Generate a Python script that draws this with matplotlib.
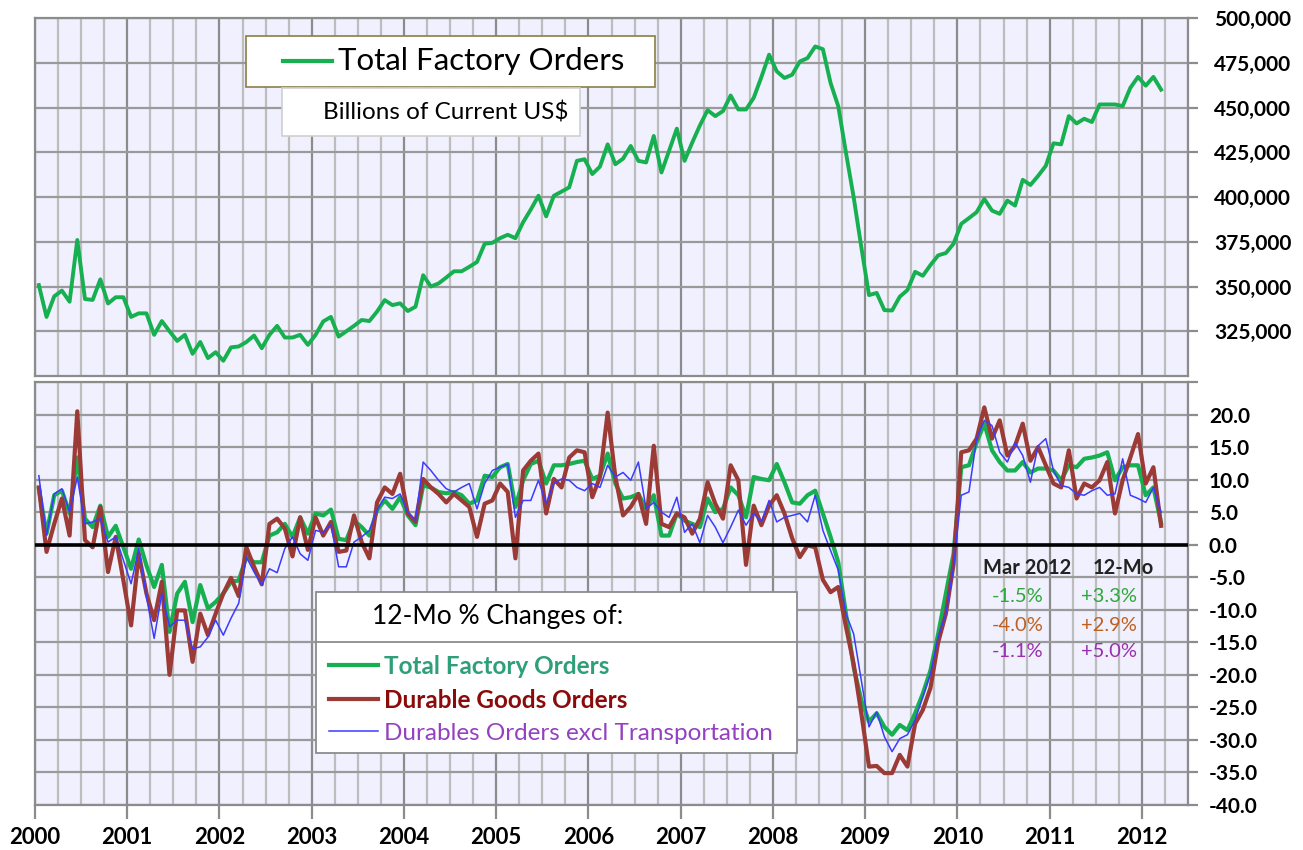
import numpy as np
import matplotlib.pyplot as plt
from matplotlib.patches import Rectangle
from matplotlib.lines import Line2D
from matplotlib.ticker import FixedLocator, FuncFormatter

plt.rcParams['font.family'] = ['Lato', 'DejaVu Sans']

# monthly data, Jan 2000 .. Mar 2012
# total factory orders, thousands -> axis shows the full number
total_orders = [
    350.8, 333.0, 344.5, 347.7, 341.5, 376.0, 343.0, 342.5, 354.0, 340.5, 344.0, 344.0,
    333.0, 335.0, 335.0, 323.0, 330.7, 325.0, 319.6, 323.0, 312.4, 319.0, 310.0, 313.3,
    308.5, 316.0, 316.5, 319.0, 322.6, 315.5, 323.0, 328.0, 321.5, 321.5, 323.0, 317.4,
    323.0, 330.5, 333.0, 322.0, 325.0, 328.0, 331.3, 330.7, 336.0, 342.4, 339.6, 340.6,
    336.3, 338.7, 356.3, 350.0, 351.7, 355.0, 358.5, 358.5, 361.0, 363.7, 373.9, 374.4,
    377.0, 378.9, 377.0, 385.9, 393.0, 400.7, 389.2, 400.7, 403.0, 405.4, 420.2, 421.1,
    412.8, 417.0, 429.4, 418.3, 421.4, 428.5, 420.2, 419.3, 434.1, 413.7, 426.0, 438.2,
    420.2, 430.4, 440.0, 448.5, 445.2, 448.0, 456.7, 448.9, 448.9, 455.4, 467.0, 479.5,
    470.2, 466.5, 468.3, 475.7, 477.6, 484.1, 482.6, 463.7, 450.7, 424.8, 400.0, 372.0,
    345.2, 346.4, 336.8, 336.6, 344.3, 348.0, 358.2, 356.0, 362.0, 367.4, 368.7, 373.9,
    385.0, 388.2, 391.5, 398.9, 392.4, 390.6, 398.0, 395.2, 409.6, 406.7, 411.8, 417.4,
    430.0, 429.4, 445.2, 441.1, 443.7, 441.9, 451.7, 451.7, 451.7, 450.8, 461.0, 467.1,
    462.2, 467.1, 460.0,
]
total_yoy = [
    8.6, 1.7, 7.6, 8.3, 4.8, 13.4, 4.0, 2.7, 6.0, 1.2, 2.9, -0.4,
    -3.7, 0.8, -3.2, -6.5, -3.1, -13.4, -7.5, -5.7, -11.9, -6.2, -9.8, -8.8,
    -7.5, -5.7, -5.5, -1.9, -2.7, -2.7, 1.4, 1.9, 3.2, 1.2, 4.2, 1.7,
    4.8, 4.5, 5.4, 0.9, 0.7, 3.7, 2.7, 1.4, 5.3, 6.8, 5.5, 7.3,
    4.5, 3.0, 9.1, 8.8, 8.1, 7.9, 8.1, 7.6, 6.3, 6.8, 10.6, 10.4,
    11.9, 12.4, 5.8, 9.9, 12.4, 12.9, 9.4, 12.2, 12.2, 12.4, 12.7, 12.9,
    10.1, 10.6, 14.0, 9.4, 7.1, 7.3, 7.8, 5.5, 7.6, 1.4, 1.4, 4.8,
    3.7, 3.2, 2.7, 7.1, 5.0, 5.5, 8.8, 7.6, 4.2, 10.4, 10.1, 9.9,
    12.4, 9.6, 6.5, 6.3, 7.6, 8.3, 4.8, 1.2, -2.7, -10.6, -18.8, -23.9,
    -27.2, -25.9, -28.0, -29.2, -27.7, -28.5, -25.9, -22.9, -19.3, -13.7, -7.5, -1.4,
    11.9, 12.2, 15.7, 18.6, 14.5, 12.7, 11.4, 11.4, 12.7, 11.1, 11.7, 11.7,
    11.4, 9.9, 12.2, 11.9, 13.2, 13.4, 13.7, 14.2, 9.9, 11.9, 12.2, 12.2,
    7.6, 8.8, 3.3,
]
durable_yoy = [
    8.8, -1.1, 3.2, 7.1, 1.4, 20.5, 0.7, -0.4, 5.8, -4.2, 1.2, -5.5,
    -12.4, -1.4, -7.5, -11.6, -5.7, -20.0, -10.1, -10.1, -18.0, -10.6, -13.9, -10.6,
    -7.5, -5.1, -7.9, -0.4, -3.4, -6.1, 3.2, 4.0, 2.5, -1.8, 4.2, -0.8,
    4.2, 1.4, 3.5, -1.1, -0.9, 4.5, 0.4, -2.1, 6.5, 8.8, 7.8, 10.9,
    4.8, 3.5, 10.1, 8.8, 7.8, 6.5, 7.8, 6.8, 5.8, 1.2, 6.3, 6.8,
    9.4, 8.1, -2.1, 11.4, 12.9, 14.0, 4.8, 10.1, 8.8, 13.4, 14.5, 14.2,
    7.3, 10.4, 20.3, 10.4, 4.5, 5.8, 7.8, 3.2, 15.2, 3.2, 2.7, 4.8,
    4.2, 1.7, 4.0, 9.6, 6.3, 4.0, 12.2, 9.9, -3.1, 6.0, 3.0, 6.0,
    7.6, 4.8, 1.0, -1.9, -0.1, -0.4, -5.4, -7.3, -6.5, -12.6, -18.3, -25.9,
    -34.1, -34.0, -35.1, -35.1, -32.3, -34.1, -27.5, -25.4, -22.0, -15.0, -10.6, -3.0,
    14.2, 14.5, 16.3, 21.1, 16.3, 19.1, 13.7, 15.2, 18.6, 12.9, 15.0, 12.2,
    9.4, 8.8, 14.5, 7.1, 9.4, 8.8, 9.9, 12.7, 4.8, 9.9, 13.4, 17.0,
    9.4, 11.9, 2.9,
]
ex_transport_yoy = [
    10.6, 1.4, 7.8, 8.6, 5.0, 10.4, 3.2, 3.5, 4.0, 0.4, 1.2, -2.4,
    -6.0, -0.6, -8.0, -14.4, -7.5, -12.6, -11.6, -11.6, -16.0, -15.7, -14.2, -11.6,
    -13.9, -11.3, -9.0, -1.9, -4.2, -6.2, -3.7, -4.3, -0.6, 1.2, -1.4, -2.4,
    2.2, 1.9, 3.2, -3.4, -3.4, 0.4, 1.2, 2.2, 5.3, 7.3, 7.1, 7.8,
    5.0, 3.7, 12.7, 11.4, 9.9, 8.6, 8.1, 8.8, 9.4, 5.5, 9.4, 11.4,
    11.9, 12.4, 4.2, 6.8, 6.8, 9.9, 6.3, 9.4, 10.1, 9.9, 8.8, 8.3,
    9.4, 8.8, 12.2, 10.4, 11.1, 9.9, 12.7, 5.5, 6.5, 5.0, 4.2, 7.3,
    1.9, 3.2, 0.3, 4.5, 2.7, 0.3, 2.7, 5.3, 3.0, 4.8, 3.5, 6.8,
    3.5, 4.2, 4.5, 4.8, 3.5, 7.6, 2.2, -0.9, -3.9, -10.6, -13.7, -20.8,
    -28.0, -25.7, -29.5, -31.8, -29.8, -29.2, -26.9, -23.4, -19.8, -14.2, -10.6, -3.4,
    7.6, 8.1, 16.3, 19.1, 18.3, 14.2, 12.7, 15.7, 13.7, 9.6, 15.2, 16.3,
    11.4, 9.1, 8.8, 7.8, 7.6, 8.3, 8.8, 7.6, 7.8, 13.2, 7.6, 7.1,
    6.5, 8.8, 5.0,
]

year_labels = [str(y) for y in range(2000, 2013)]
series_names = ['Total Factory Orders', 'Durable Goods Orders', 'Durables Orders excl Transportation']
mar_changes = ['-1.5%', '-4.0%', '-1.1%']
yr_changes = ['+3.3%', '+2.9%', '+5.0%']

n = len(total_orders)
x = 2000 + (np.arange(n) + 0.5) / 12
levels = np.array(total_orders) * 1000

green = '#16B050'
red = '#9C3A36'
blue = '#3B3BFF'
bg = '#F0F0FE'

fig = plt.figure(figsize=(13.03, 8.5), dpi=100)
W, H = 1303, 850
ax1 = fig.add_axes([35 / W, 1 - 376 / H, 1153 / W, 358 / H])
ax2 = fig.add_axes([35 / W, 1 - 805 / H, 1153 / W, 423 / H])

for ax in (ax1, ax2):
    ax.set_facecolor(bg)
    ax.set_xlim(2000, 2012.5)
    ax.xaxis.set_major_locator(FixedLocator(range(2000, 2013)))
    ax.xaxis.set_minor_locator(FixedLocator(np.arange(2000, 2012.6, 0.25)))
    ax.grid(True, which='minor', axis='x', color='#BDBDBD', linewidth=1.6)
    ax.grid(True, which='major', axis='x', color='#8C8C8C', linewidth=1.6)
    ax.grid(True, which='major', axis='y', color='#9A9A9A', linewidth=1.6)
    ax.set_axisbelow(True)
    for s in ax.spines.values():
        s.set_color('#8C8C8C')
        s.set_linewidth(1.6)
    ax.yaxis.tick_right()
    ax.tick_params(axis='x', which='minor', length=0)
    ax.tick_params(axis='y', length=7, width=1.6, color='#8C8C8C', labelsize=15)

# top panel: levels
ax1.plot(x, levels, color=green, linewidth=2.8, solid_joinstyle='round')
ax1.set_ylim(300000, 500000)
ax1.set_yticks(np.arange(325000, 500001, 25000))
ax1.yaxis.set_major_formatter(FuncFormatter(lambda v, p: f'{v:,.0f}'))
ax1.tick_params(axis='y', pad=12)
ax1.tick_params(axis='x', length=0, labelbottom=False)
for lab in ax1.get_yticklabels():
    lab.set_fontweight('bold')

ax1.add_patch(Rectangle((0.183, 0.807), 0.355, 0.143, transform=ax1.transAxes,
                        facecolor='white', edgecolor='#8A7E45', linewidth=1.2, zorder=5))
ax1.add_line(Line2D([0.215, 0.258], [0.8785, 0.8785], transform=ax1.transAxes,
                    color=green, linewidth=3, zorder=6))
ax1.text(0.263, 0.8785, 'Total Factory Orders', transform=ax1.transAxes, fontsize=22.5,
         va='center', ha='left', zorder=6)
ax1.add_patch(Rectangle((0.214, 0.670), 0.259, 0.134, transform=ax1.transAxes,
                        facecolor='white', edgecolor='#D0D0D0', linewidth=1.2, zorder=5))
ax1.text(0.3565, 0.737, r'Billions of Current US\$', transform=ax1.transAxes, fontsize=17.5,
         va='center', ha='center', zorder=6)

# bottom panel: 12-month % changes
l1, = ax2.plot(x, total_yoy, color=green, linewidth=3.0, zorder=3)
l2, = ax2.plot(x, durable_yoy, color=red, linewidth=3.0, zorder=3)
l3, = ax2.plot(x, ex_transport_yoy, color=blue, linewidth=1.1, zorder=4)
ax2.axhline(0, color='black', linewidth=2.6, zorder=5)
ax2.set_ylim(-40, 25)
ax2.set_yticks(np.arange(-40, 25.1, 5))
ax2.yaxis.set_major_formatter(FuncFormatter(lambda v, p: '' if v > 20 else f'{v:.1f}'))
ax2.tick_params(axis='y', pad=8)
ax2.set_xticks(range(2000, 2013))
ax2.set_xticklabels(year_labels)
ax2.tick_params(axis='x', which='major', length=10, width=1.6, color='#8C8C8C',
                labelsize=16, pad=6)
for lab in ax2.get_yticklabels() + ax2.get_xticklabels():
    lab.set_fontweight('bold')

# legend box
ax2.add_patch(Rectangle((0.2437, 0.123), 0.4173, 0.3805, transform=ax2.transAxes,
                        facecolor='white', edgecolor='#8C8C8C', linewidth=1.3, zorder=6))
ax2.add_line(Line2D([0.2437, 0.661], [0.385, 0.385], transform=ax2.transAxes,
                    color='#8C8C8C', linewidth=1.3, zorder=7))
ax2.text(0.2925, 0.445, '12-Mo % Changes of:', transform=ax2.transAxes, fontsize=19,
         va='center', ha='left', zorder=7)
leg = ax2.legend([l1, l2, l3], series_names,
                 loc='upper left', bbox_to_anchor=(0.2445, 0.384), frameon=False,
                 fontsize=17.5, handlelength=2.0, handletextpad=0.25, labelspacing=0.45,
                 borderaxespad=0.1)
leg.set_zorder(8)
for t, c, w in zip(leg.get_texts(), ['#2E9F78', '#8B0A0A', '#9440C0'], ['bold', 'bold', 'normal']):
    t.set_color(c)
    t.set_fontweight(w)

# latest-month annotations
ax2.text(0.822, 0.560, 'Mar 2012', transform=ax2.transAxes, fontsize=14.5,
         fontweight='bold', va='center', ha='left', color='#222222')
ax2.text(0.917, 0.560, '12-Mo', transform=ax2.transAxes, fontsize=14.5,
         fontweight='bold', va='center', ha='left', color='#222222')
ycols = [0.492, 0.4255, 0.362]
ann_colors = ['#2FA83A', '#C0601E', '#9A30B0']
for yv, a, b, c in zip(ycols, mar_changes, yr_changes, ann_colors):
    ax2.text(0.830, yv, a, transform=ax2.transAxes, fontsize=14.5, va='center', ha='left', color=c)
    ax2.text(0.907, yv, b, transform=ax2.transAxes, fontsize=14.5, va='center', ha='left', color=c)

fig.savefig('out.png', dpi=100, facecolor='white')
